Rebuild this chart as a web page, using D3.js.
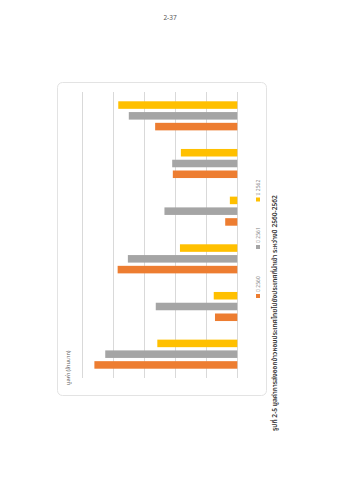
<!DOCTYPE html>
<html><head><meta charset="utf-8">
<script src="https://cdn.jsdelivr.net/npm/d3@7"></script>
<style>html,body{margin:0;padding:0;background:#fff;}svg{display:block;}</style>
</head><body>
<script>
// ---- data ----
const categories = ["ประเทศ 1","ประเทศ 2","ประเทศ 3","ประเทศ 4","ประเทศ 5","ประเทศ 6"];
const seriesNames = ["ปี 2560","ปี 2561","ปี 2562"];
const values2560 = [9220, 1440, 7720, 780, 4160, 5300];
const values2561 = [8520, 5260, 7060, 4700, 4200, 7000];
const values2562 = [5160, 1520, 3700, 480, 3640, 7680];
const yTicks = [0, 2000, 4000, 6000, 8000, 10000];
const colors = ["#ED7D31", "#A5A5A5", "#FFC000"];
const unitLabel = "มูลค่า (ล้านบาท)";
const caption = "รูปที่ 2-5  มูลค่าการส่งออกข้าวหอมประเทศไทยไปยังประเทศที่นำเข้า ระหว่างปี 2560-2562";
const pageNo = "2-37";

const seriesValues = [values2560, values2561, values2562];
const rows = categories.map((c, i) => ({cat: c, vals: seriesNames.map((s, j) => ({s, j, v: seriesValues[j][i]}))}));

const font = "'Noto Sans Thai','Noto Sans','DejaVu Sans',sans-serif";
const svg = d3.select("body").append("svg").attr("width", 339).attr("height", 480);

svg.append("text").attr("x", 170).attr("y", 20).attr("text-anchor", "middle")
  .attr("font-family", font).attr("font-size", 6.5).attr("fill", "#555").text(pageNo);

// chart in un-rotated coordinates, then rotated -90
const CW = 314, CH = 210;
const g = svg.append("g").attr("transform", "translate(57,396) rotate(-90)");

g.append("rect").attr("x", 0.5).attr("y", 0.5).attr("width", CW - 1).attr("height", CH - 1)
  .attr("rx", 5).attr("fill", "#fff").attr("stroke", "#e3e3e3").attr("stroke-width", 1);

const x0 = d3.scaleBand().domain(categories).range([18, 304]).paddingInner(0.39).paddingOuter(0.195);
const x1 = d3.scaleBand().domain(seriesNames).range([0, x0.bandwidth()]).paddingInner(0.3);
const y = d3.scaleLinear().domain([0, 10000]).range([180.3, 25.3]);

g.append("g").selectAll("line").data(yTicks).join("line")
  .attr("x1", 18).attr("x2", 304)
  .attr("y1", d => Math.round(y(d)) + 0.5).attr("y2", d => Math.round(y(d)) + 0.5)
  .attr("stroke", "#d9d9d9").attr("stroke-width", 1);

const grp = g.append("g").selectAll("g").data(rows).join("g")
  .attr("transform", d => `translate(${x0(d.cat)},0)`);
grp.selectAll("rect").data(d => d.vals).join("rect")
  .attr("x", d => x1(d.s)).attr("width", x1.bandwidth())
  .attr("y", d => y(d.v)).attr("height", d => y(0) - y(d.v))
  .attr("fill", d => colors[d.j]);

g.append("text").attr("x", 11).attr("y", 13)
  .attr("font-family", font).attr("font-size", 5.5).attr("fill", "#595959").text(unitLabel);

const legendX = [100, 149, 196.5];
const lg = g.append("g").selectAll("g").data(seriesNames).join("g")
  .attr("transform", (d, i) => `translate(${legendX[i]},201)`);
lg.append("rect").attr("x", -2).attr("y", -2).attr("width", 4).attr("height", 4).attr("fill", (d, i) => colors[i]);
lg.append("text").attr("x", 4).attr("y", 2).attr("font-family", font).attr("font-size", 5)
  .attr("fill", "#7f7f7f").text(d => d);

const cap = svg.append("text").attr("transform", "translate(277,431) rotate(-90)")
  .attr("font-family", font).attr("font-size", 7).attr("font-weight", 600).attr("fill", "#333")
  .text(caption);
const len = cap.node().getComputedTextLength();
if (len > 0) cap.attr("font-size", 7 * 236 / len);
</script>
</body></html>
